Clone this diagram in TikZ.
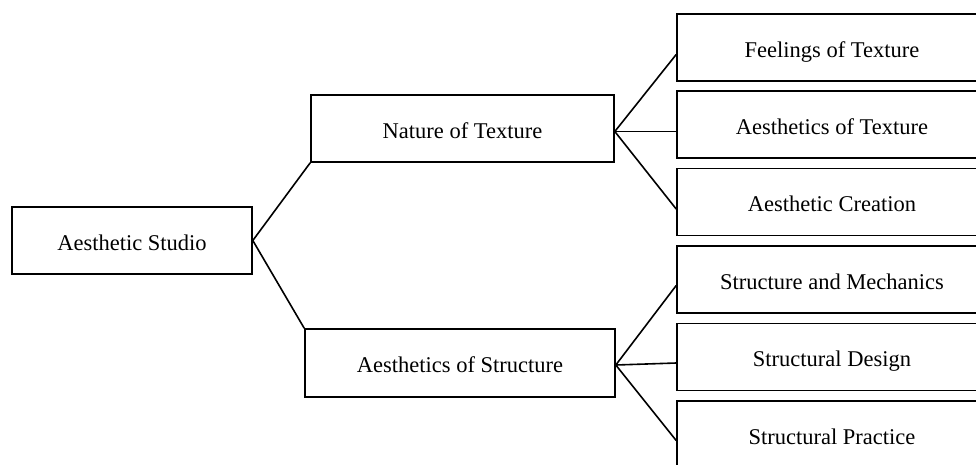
\documentclass[tikz,border=0pt]{standalone}
\usepackage{fontspec}
\setmainfont{Liberation Serif}
\usetikzlibrary{
  positioning,
}
\tikzset{
  box/.style={draw, line width=1.6pt, minimum height=67pt, inner sep=0pt,
    text height=19pt, text depth=0pt,
    font=\fontsize{22.5}{26}\selectfont},
  link/.style={line width=1.6pt},
}

\begin{document}
\begin{tikzpicture}[x=1pt, y=-1pt]
    % page frame, the leaf boxes run past the right edge
    \clip (0,0) rectangle (976,464);

    % root and the two branches
    \node[box, minimum width=240pt] (studio) at (132,240.5) {Aesthetic Studio};
    \node[box, minimum width=303pt] (nature) at (462.5,128.5) {Nature of Texture};
    \node[box, minimum width=310pt, minimum height=68pt] (struct) at (460,363) {Aesthetics of Structure};

    % leaves
    \foreach \name/\y/\txt in {feel/47.5/Feelings of Texture,
                               aestex/124.5/Aesthetics of Texture,
                               creation/202/Aesthetic Creation,
                               mech/279.5/Structure and Mechanics,
                               design/357/Structural Design,
                               practice/434.5/Structural Practice} {
      \node[box, minimum width=310pt] (\name) at (832,\y) {\txt};
    }

    % connectors
    \draw[link] (studio.east) -- (nature.south west);
    \draw[link] (studio.east) -- (struct.north west);
    \foreach \kid in {feel, aestex, creation} {
      \draw[link] ([yshift=-3pt]nature.east) -- ([yshift=-7pt]\kid.west);
    }
    \foreach \kid in {mech, design, practice} {
      \draw[link] ([yshift=-2pt]struct.east) -- ([yshift=-6pt]\kid.west);
    }
\end{tikzpicture}
\end{document}
